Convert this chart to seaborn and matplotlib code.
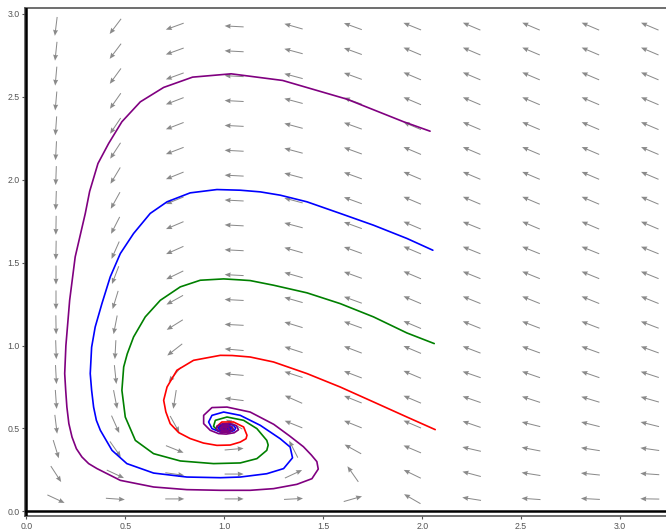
import numpy as np
import pandas as pd
import seaborn as sns
import matplotlib.pyplot as plt

# arrow grid (direction field sample points)
grid_x = [0.15, 0.45, 0.75, 1.05, 1.35, 1.65, 1.95, 2.25, 2.55, 2.85, 3.15]
grid_y = [0.075, 0.225, 0.375, 0.525, 0.675, 0.825, 0.975, 1.125, 1.275, 1.425,
          1.575, 1.725, 1.875, 2.025, 2.175, 2.325, 2.475, 2.625, 2.775, 2.925]

# on-screen arrow direction (degrees) for each column, bottom row first
ang_c1 = [-25, -57, -73, -83, -86, -87, -88, -89, -90, -90, -91, -91, -92, -92, -93, -94, -95, -95, -96, -97]
ang_c2 = [-4, -25, -55, -66, -79, -84, -93, -101, -107, -111, -114, -117, -119, -121, -123, -124, -125, -126, -127, -127]
ang_c3 = [0, -8, -22, -61, -99, -130, -142, -148, -151, -154, -156, -157, -158, -158, -159, -159, -159, -160, -160, -160]
ang_c4 = [0, 0, 5, 150, 173, 175, 175, 177, 177, 177, 177, 177, 177, 177, 177, 177, 177, 177, 177, 177]
ang_c5 = [3, 25, 117, 158, 156, 162, 162, 163, 164, 164, 164, 165, 165, 165, 165, 165, 165, 165, 165, 164]
ang_c6 = [16, 125, 151, 158, 158, 159, 159, 160, 160, 160, 160, 160, 160, 160, 160, 160, 160, 160, 160, 160]
ang_c7 = [150, 154, 157, 157, 157, 157, 157, 157, 157, 157, 157, 157, 157, 157, 157, 157, 157, 157, 157, 158]
ang_c8 = [171, 165, 167, 161, 161, 161, 159, 158, 158, 158, 158, 158, 157, 157, 157, 157, 157, 157, 157, 157]
ang_c9 = [176, 171, 169, 166, 162, 161, 160, 159, 158, 158, 158, 157, 157, 157, 157, 157, 157, 157, 157, 157]
ang_c10 = [177, 174, 171, 166, 163, 161, 160, 159, 158, 158, 158, 157, 157, 157, 157, 157, 157, 157, 157, 157]
ang_c11 = [179, 176, 172, 166, 164, 162, 160, 159, 158, 158, 158, 157, 157, 157, 157, 157, 157, 157, 157, 157]

# trajectories
red_x = [2.066, 1.923, 1.754, 1.586, 1.418, 1.249, 1.131, 1.040, 0.980, 0.845, 0.761, 0.711, 0.694, 0.705,
         0.727, 0.770, 0.828, 0.895, 0.963, 1.030, 1.081, 1.110, 1.115, 1.098, 1.047, 0.988, 0.963, 0.980,
         1.014, 1.030, 1.032, 1.020, 1.002, 0.990, 0.992, 1.005, 1.015, 1.013, 1.003, 0.997, 1.003]
red_y = [0.493, 0.569, 0.660, 0.750, 0.831, 0.901, 0.931, 0.940, 0.941, 0.911, 0.851, 0.750, 0.670, 0.600,
         0.529, 0.475, 0.439, 0.412, 0.398, 0.400, 0.418, 0.438, 0.459, 0.509, 0.539, 0.539, 0.513, 0.489,
         0.485, 0.490, 0.502, 0.512, 0.514, 0.505, 0.492, 0.487, 0.493, 0.502, 0.505, 0.498, 0.494]

green_x = [2.061, 1.923, 1.754, 1.586, 1.418, 1.249, 1.131, 1.081, 0.997, 0.879, 0.778, 0.677, 0.601, 0.542,
           0.510, 0.492, 0.483, 0.500, 0.551, 0.643, 0.778, 0.946, 1.081, 1.165, 1.215, 1.222, 1.215, 1.165,
           1.098, 1.014, 0.955, 0.946, 0.971, 1.000, 1.030, 1.045, 1.035, 1.010, 0.985, 0.975, 0.985, 1.008,
           1.025, 1.025, 1.010, 0.993, 0.992, 1.006, 1.013, 1.003]
green_y = [1.012, 1.076, 1.173, 1.253, 1.318, 1.364, 1.392, 1.396, 1.402, 1.394, 1.354, 1.273, 1.173, 1.052,
           0.950, 0.871, 0.730, 0.569, 0.428, 0.348, 0.304, 0.288, 0.292, 0.318, 0.368, 0.400, 0.428, 0.499,
           0.549, 0.569, 0.549, 0.513, 0.483, 0.476, 0.480, 0.495, 0.512, 0.520, 0.514, 0.500, 0.486, 0.482,
           0.490, 0.503, 0.510, 0.505, 0.493, 0.489, 0.497, 0.502]

blue_x = [2.054, 1.923, 1.754, 1.586, 1.418, 1.283, 1.182, 1.081, 0.963, 0.828, 0.711, 0.626, 0.542, 0.475,
          0.424, 0.382, 0.348, 0.330, 0.323, 0.330, 0.340, 0.354, 0.374, 0.433, 0.508, 0.643, 0.811, 0.980,
          1.081, 1.215, 1.300, 1.345, 1.333, 1.283, 1.182, 1.081, 0.997, 0.938, 0.921, 0.938, 0.980, 1.020,
          1.050, 1.058, 1.045, 1.015, 0.985, 0.970, 0.978, 1.000, 1.025, 1.035, 1.025, 1.003, 0.987, 0.988,
          1.005, 1.018, 1.013, 1.000, 0.995, 1.003]
blue_y = [1.575, 1.646, 1.726, 1.797, 1.867, 1.907, 1.927, 1.937, 1.941, 1.921, 1.867, 1.797, 1.676, 1.555,
          1.414, 1.253, 1.112, 0.990, 0.831, 0.730, 0.629, 0.549, 0.489, 0.368, 0.288, 0.231, 0.207, 0.203,
          0.207, 0.227, 0.258, 0.323, 0.388, 0.438, 0.519, 0.579, 0.599, 0.579, 0.539, 0.499, 0.479, 0.477,
          0.487, 0.503, 0.520, 0.528, 0.522, 0.505, 0.488, 0.480, 0.485, 0.498, 0.512, 0.516, 0.507, 0.492,
          0.486, 0.494, 0.506, 0.507, 0.498, 0.493]

purple_x = [2.040, 1.906, 1.620, 1.295, 1.035, 0.840, 0.694, 0.576, 0.483, 0.416, 0.362, 0.320, 0.298, 0.247,
            0.219, 0.200, 0.194, 0.199, 0.205, 0.215, 0.231, 0.253, 0.281, 0.315, 0.357, 0.475, 0.643, 0.811,
            0.980, 1.131, 1.249, 1.367, 1.443, 1.475, 1.468, 1.440, 1.400, 1.330, 1.250, 1.131, 1.014, 0.938,
            0.896, 0.896, 0.929, 0.971, 1.010, 1.050, 1.072, 1.062, 1.030, 0.990, 0.962, 0.962, 0.985, 1.020,
            1.045, 1.042, 1.018, 0.992, 0.978, 0.988, 1.012, 1.028, 1.020, 1.000, 0.988, 0.997, 1.012, 1.012,
            1.000]
purple_y = [2.293, 2.350, 2.486, 2.599, 2.639, 2.619, 2.557, 2.470, 2.350, 2.219, 2.098, 1.930, 1.797, 1.535,
            1.273, 1.000, 0.831, 0.730, 0.629, 0.529, 0.448, 0.378, 0.328, 0.288, 0.258, 0.187, 0.147, 0.131,
            0.127, 0.127, 0.137, 0.163, 0.197, 0.255, 0.300, 0.340, 0.390, 0.455, 0.525, 0.599, 0.629, 0.626,
            0.579, 0.529, 0.489, 0.469, 0.466, 0.474, 0.492, 0.516, 0.530, 0.528, 0.512, 0.492, 0.478, 0.477,
            0.490, 0.508, 0.520, 0.517, 0.502, 0.486, 0.483, 0.495, 0.508, 0.511, 0.501, 0.490, 0.492, 0.503,
            0.503]

sns.set_style("white")
plt.rcParams['font.family'] = ['Liberation Sans', 'DejaVu Sans']

fig = plt.figure(figsize=(6.66, 5.31), dpi=100)
ax = fig.add_axes([25 / 666, 15 / 531, 641 / 666, 508 / 531])

# direction field
angles = np.column_stack([ang_c1, ang_c2, ang_c3, ang_c4, ang_c5, ang_c6,
                          ang_c7, ang_c8, ang_c9, ang_c10, ang_c11])
X, Y = np.meshgrid(grid_x, grid_y)
rad = np.deg2rad(angles)
ax.quiver(X, Y, np.cos(rad), np.sin(rad), angles='uv', pivot='mid',
          units='dots', width=1.0, headwidth=5, headlength=6, headaxislength=5.5,
          scale_units='dots', scale=1 / 19, color='#8a8a8a', zorder=1)

curves = [('red', red_x, red_y), ('green', green_x, green_y),
          ('blue', blue_x, blue_y), ('purple', purple_x, purple_y)]
df = pd.concat([pd.DataFrame({'x': xs, 'y': ys, 'curve': name})
                for name, xs, ys in curves], ignore_index=True)
sns.lineplot(data=df, x='x', y='y', hue='curve', units='curve', estimator=None, sort=False,
             palette={'red': 'red', 'green': 'green', 'blue': 'blue', 'purple': 'purple'},
             linewidth=1.2, legend=False, ax=ax, zorder=3)

ax.axhline(0, color='black', lw=1.8, zorder=4)
ax.axvline(0, color='black', lw=1.8, zorder=4)

ax.set_xlim(-0.0066, 3.232)
ax.set_ylim(-0.028, 3.036)
ax.set_xticks([0, 0.5, 1, 1.5, 2, 2.5, 3])
ax.set_yticks([0, 0.5, 1, 1.5, 2, 2.5, 3])
ax.xaxis.set_major_formatter(plt.FormatStrFormatter('%.1f'))
ax.yaxis.set_major_formatter(plt.FormatStrFormatter('%.1f'))
ax.tick_params(axis='both', labelsize=6.3, colors='#555555', length=2.5, width=0.8, pad=1.5,
               direction='out', left=True, bottom=True)
ax.set_xlabel('')
ax.set_ylabel('')
for side in ['top', 'bottom', 'left']:
    ax.spines[side].set_color('#555555')
    ax.spines[side].set_linewidth(1.2)
ax.spines['right'].set_visible(False)

fig.savefig('out.png', dpi=100)
